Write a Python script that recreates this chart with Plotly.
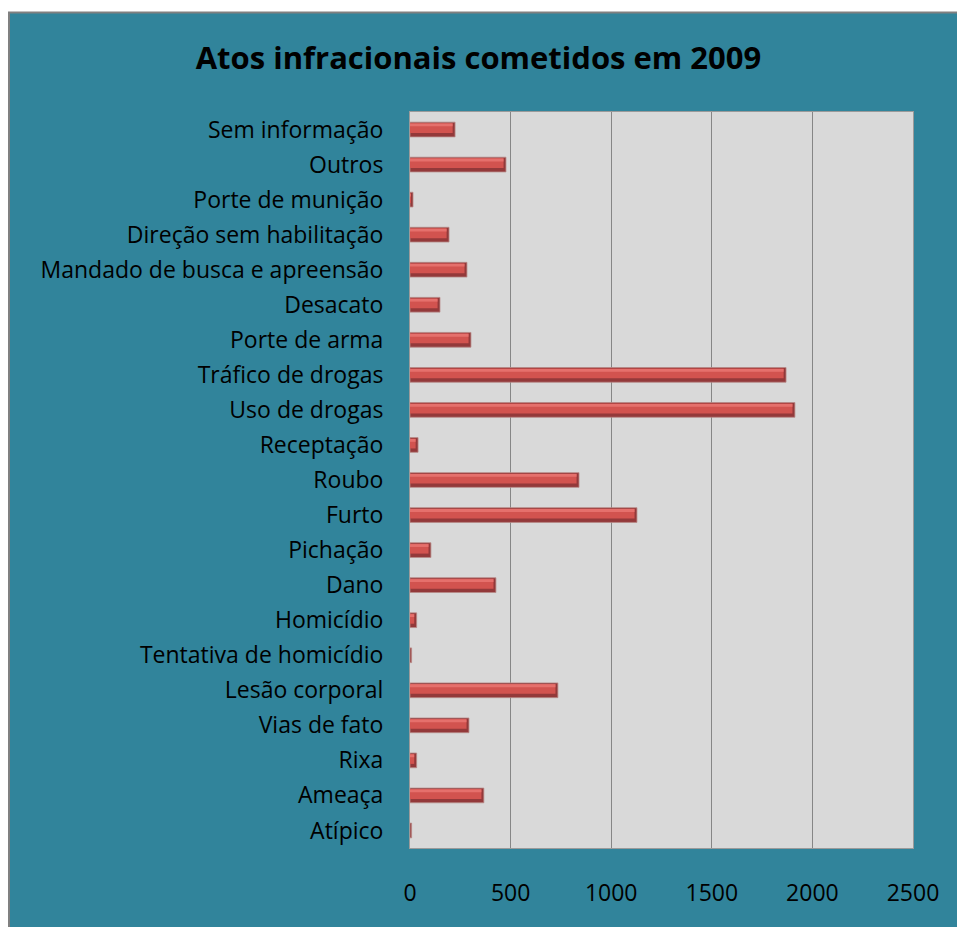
import plotly.graph_objects as go

categories = [
    "Atípico", "Ameaça", "Rixa", "Vias de fato", "Lesão corporal",
    "Tentativa de homicídio", "Homicídio", "Dano", "Pichação", "Furto",
    "Roubo", "Receptação", "Uso de drogas", "Tráfico de drogas", "Porte de arma",
    "Desacato", "Mandado de busca e apreensão", "Direção sem habilitação",
    "Porte de munição", "Outros", "Sem informação",
]
values = [8, 367, 33, 293, 735, 8, 33, 427, 104, 1128,
          840, 40, 1913, 1869, 303, 149, 283, 194, 15, 477, 224]
x_ticks = [0, 500, 1000, 1500, 2000, 2500]

TEAL = "#31849B"
W, H = 957, 927
L, R, T, B = 410, 44, 112, 79
pw, ph = W - L - R, H - T - B
FONT = "Open Sans, Lato, sans-serif"

def px_x(p):
    return (p - L) / pw

def px_y(p):
    return (H - B - p) / ph

fig = go.Figure()
# base (darker) bar
fig.add_trace(go.Bar(
    y=categories, x=values, orientation="h",
    width=0.42, offset=-0.21,
    marker=dict(color="#93393A", line=dict(color="#B88A88", width=0.8)),
    showlegend=False, hoverinfo="skip",
))
# main face
fig.add_trace(go.Bar(
    y=categories, x=[max(v - 12, 0) for v in values], orientation="h",
    width=0.28, offset=-0.1,
    marker=dict(color="#D2534F", line=dict(width=0)),
    showlegend=False, hoverinfo="skip",
))
# top highlight
fig.add_trace(go.Bar(
    y=categories, x=[max(v - 12, 0) for v in values], orientation="h",
    width=0.08, offset=0.09,
    marker=dict(color="#E5706C", line=dict(width=0)),
    showlegend=False, hoverinfo="skip",
))

fig.update_layout(
    width=W, height=H,
    margin=dict(l=L, r=R, t=T, b=B),
    paper_bgcolor=TEAL,
    plot_bgcolor="#D9D9D9",
    barmode="overlay",
    font=dict(family=FONT, color="#000000", size=23),
    title=dict(
        text="<b>Atos infracionais cometidos em 2009</b>",
        x=0.5, xref="container", xanchor="center",
        y=1 - 58 / H, yref="container", yanchor="middle",
        font=dict(size=31, family=FONT, color="#000"),
    ),
    xaxis=dict(
        range=[0, 2500], tickvals=x_ticks, ticktext=[str(t) for t in x_ticks],
        showgrid=True, gridcolor="#868686", gridwidth=1,
        zeroline=False, showline=True, linecolor="#9a9a9a", linewidth=1, mirror=True,
        ticks="", ticklabelstandoff=24, tickfont=dict(size=23),
        fixedrange=True,
    ),
    yaxis=dict(
        type="category", categoryorder="array", categoryarray=categories,
        showgrid=False, zeroline=False, showline=True, linecolor="#9a9a9a",
        linewidth=1, mirror=True, ticks="", ticklabelstandoff=21,
        tickfont=dict(size=23), fixedrange=True,
    ),
    shapes=[
        dict(type="rect", xref="paper", yref="paper",
             x0=px_x(0), x1=px_x(W), y0=px_y(12), y1=px_y(0),
             fillcolor="white", line=dict(width=0), layer="below"),
        dict(type="rect", xref="paper", yref="paper",
             x0=px_x(0), x1=px_x(8), y0=px_y(H), y1=px_y(0),
             fillcolor="white", line=dict(width=0), layer="below"),
        dict(type="line", xref="paper", yref="paper",
             x0=px_x(8), x1=px_x(W), y0=px_y(12.5), y1=px_y(12.5),
             line=dict(color="#808080", width=2)),
        dict(type="line", xref="paper", yref="paper",
             x0=px_x(9), x1=px_x(9), y0=px_y(H), y1=px_y(12),
             line=dict(color="#808080", width=2)),
    ],
)

fig.write_html("out.html")
